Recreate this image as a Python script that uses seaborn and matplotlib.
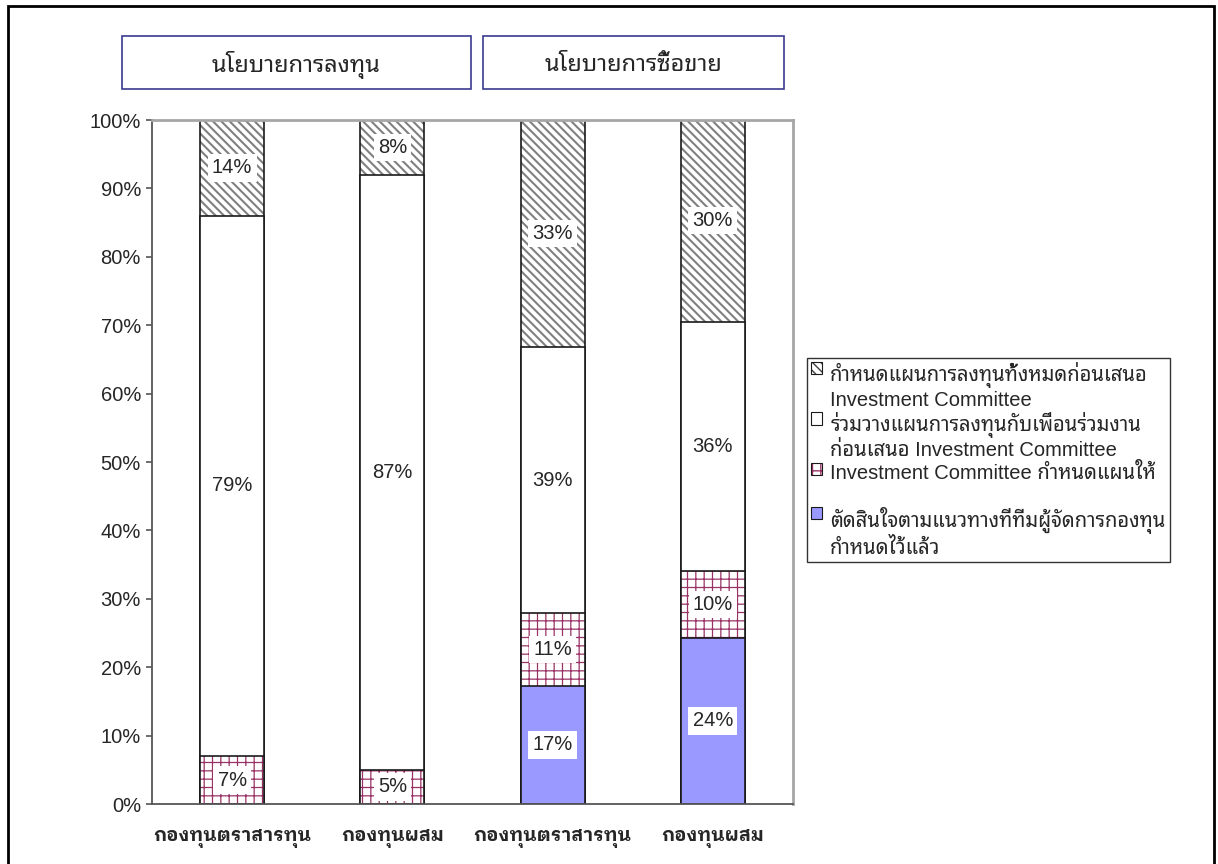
import numpy as np
import pandas as pd
import matplotlib
matplotlib.use("Agg")
import matplotlib.pyplot as plt
import seaborn as sns
from matplotlib.patches import Patch, Rectangle
from matplotlib.colors import to_rgba
from matplotlib.ticker import PercentFormatter

# fund types (left pair = investment policy, right pair = trading policy)
fund_labels = ["กองทุนตราสารทุน", "กองทุนผสม", "กองทุนตราสารทุน", "กองทุนผสม"]
group_titles = ["นโยบายการลงทุน", "นโยบายการซื้อขาย"]

# share of answers in %, stacked bottom -> top
team_guideline = [0, 0, 17.3, 24.3]
committee_plan = [7, 5, 10.6, 9.8]
plan_with_peers = [79, 87, 38.9, 36.4]
plan_all_first = [14, 8, 33.2, 29.6]

series_names = [
    "ตัดสินใจตามแนวทางที่ทีมผู้จัดการกองทุน\nกำหนดไว้แล้ว",
    "Investment Committee กำหนดแผนให้\n",
    "ร่วมวางแผนการลงทุนกับเพื่อนร่วมงาน\nก่อนเสนอ Investment Committee",
    "กำหนดแผนการลงทุนทั้งหมดก่อนเสนอ\nInvestment Committee",
]

# (face, hatch, hatch colour, hatch width) bottom -> top
styles = [
    ("#9999ff", None, None, 1.0),
    ("white", "++", "#993366", 0.9),
    ("white", None, None, 1.0),
    ("white", "\\\\\\\\", "#808080", 1.5),
]

sns.set_style("white")
plt.rcParams["font.family"] = ["Liberation Sans", "Noto Sans Thai Looped"]
plt.rcParams["hatch.linewidth"] = 1.2

layers = np.array([team_guideline, committee_plan, plan_with_peers, plan_all_first])
tops = np.cumsum(layers, axis=0)
slots = list(range(len(fund_labels)))

fig = plt.figure(figsize=(12.18, 8.64), dpi=100)
ax = fig.add_axes([152 / 1218, 1 - 804 / 864, (793 - 152) / 1218, (804 - 120) / 864])


def set_hatch(p, hcol, hw):
    p._hatch_color = to_rgba(hcol)
    if hasattr(p, "set_hatch_linewidth"):
        p.set_hatch_linewidth(hw)


# draw the cumulative bars from the top layer down so each covers the one below
for i in reversed(range(len(layers))):
    face, hatch, hcol, hw = styles[i]
    n0 = len(ax.patches)
    df = pd.DataFrame({"slot": slots, "top": tops[i]})
    sns.barplot(data=df, x="slot", y="top", color=face, hatch=hatch,
                edgecolor="#1a1a1a", linewidth=1.2, width=0.4,
                saturation=1, errorbar=None, ax=ax)
    for p in ax.patches[n0:]:
        if hcol:
            set_hatch(p, hcol, hw)

# value labels in white boxes
for i in range(len(layers)):
    for j in slots:
        val = layers[i][j]
        if val <= 0:
            continue
        ax.text(j, tops[i][j] - val / 2, f"{val:.0f}%", ha="center", va="center",
                fontsize=14.5, zorder=5,
                bbox=dict(facecolor="white", edgecolor="none", pad=3))

ax.set_xlim(-0.5, 3.5)
ax.set_ylim(0, 100)
ax.set_xlabel("")
ax.set_ylabel("")
ax.set_yticks(np.arange(0, 101, 10))
ax.yaxis.set_major_formatter(PercentFormatter(decimals=0))
ax.set_xticks(np.arange(-0.5, 4, 1))
ax.set_xticklabels([""] * 5)
ax.set_xticks(slots, minor=True)
ax.set_xticklabels(fund_labels, minor=True, fontweight="bold", fontsize=13.5,
                   family=["Liberation Sans", "IBM Plex Sans Thai Looped"])
ax.tick_params(axis="x", which="major", length=7, width=1.2, color="#555555", direction="out")
ax.tick_params(axis="x", which="minor", length=0, pad=18)
ax.tick_params(axis="y", length=4.5, width=1.2, color="#555555", direction="out",
               labelsize=14.5, pad=3.5, left=True)
for side in ["left", "bottom"]:
    ax.spines[side].set_color("#555555")
    ax.spines[side].set_linewidth(1.3)
for side in ["top", "right"]:
    ax.spines[side].set_color("#a6a6a6")
    ax.spines[side].set_linewidth(2)

# group header boxes
box_x = [122 / 1218, 483 / 1218]
box_w = [(471 - 122) / 1218, (784 - 483) / 1218]
box_y, box_h = 1 - 89 / 864, 53 / 864
for title, x0, w in zip(group_titles, box_x, box_w):
    fig.add_artist(Rectangle((x0, box_y), w, box_h, transform=fig.transFigure,
                             fill=False, edgecolor="#3b3b8f", linewidth=1.2))
    fig.text(x0 + w / 2, box_y + box_h / 2 - 0.003, title, ha="center", va="center",
             fontsize=17)

# legend, top layer first
handles = []
for face, hatch, hcol, hw in reversed(styles):
    handles.append(Patch(facecolor=face, hatch=hatch, edgecolor="#1a1a1a", linewidth=0.8))
leg = fig.legend(handles, list(reversed(series_names)), loc="upper left",
                 bbox_to_anchor=(807 / 1218, 1 - 358 / 864), frameon=True,
                 fancybox=False, edgecolor="black", fontsize=14.5,
                 handlelength=0.55, handleheight=0.55, handletextpad=0.4,
                 labelspacing=0.12, borderpad=0.2, borderaxespad=0)
leg.get_frame().set_linewidth(1.0)
for h, (face, hatch, hcol, hw) in zip(leg.legend_handles, reversed(styles)):
    if hcol:
        set_hatch(h, "#404040" if hatch.startswith("\\") else hcol, 1.0)
# put each legend marker next to the first line of its label
for col in leg._legend_handle_box.get_children():
    for item in col.get_children():
        item.align = "top"

# outer frame
fig.add_artist(Rectangle((8 / 1218, -0.01), (1214 - 8) / 1218, 1 - 6 / 864 + 0.01,
                         transform=fig.transFigure, fill=False, edgecolor="black",
                         linewidth=2, clip_on=False))

fig.savefig("out.png", dpi=100)
